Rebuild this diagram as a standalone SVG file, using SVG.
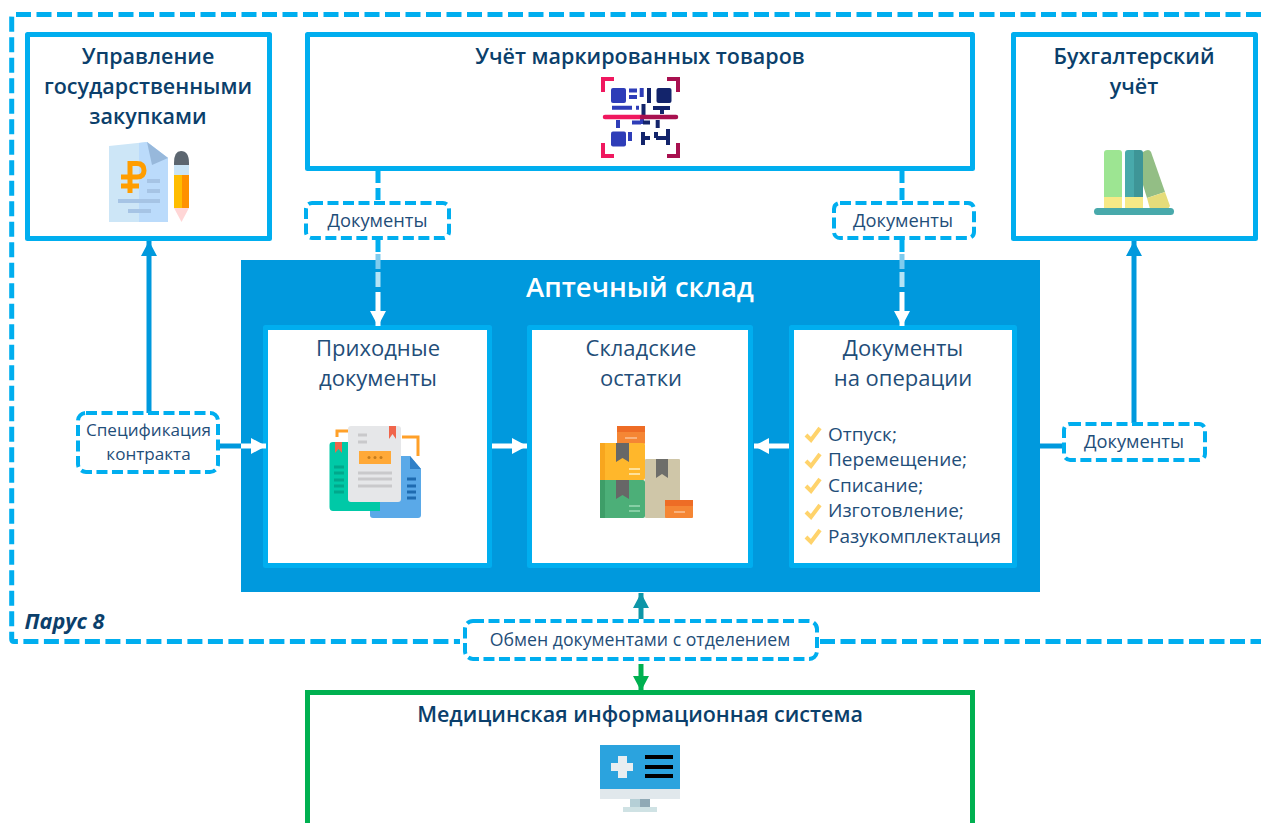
<svg xmlns="http://www.w3.org/2000/svg" width="1261" height="823" viewBox="0 0 1261 823">
<style>
text{font-family:"Open Sans","Noto Sans",sans-serif;text-anchor:middle;fill:#1F4E79}
.h{font-size:21.500px;font-weight:600;fill:#0B3F6B}
.t{font-size:22px}
.l{font-size:18.300px}
.box{fill:#fff;stroke:#00AEEF;stroke-width:5;stroke-linejoin:round}
.dash{fill:#fff;stroke:#00AEEF;stroke-width:4;stroke-dasharray:11 4.500}
.dl{fill:none;stroke:#00AEEF;stroke-width:5;stroke-dasharray:15 5.500}
.c{fill:none;stroke-width:5}
.li{text-anchor:start;font-size:19px}
.ck{fill:none;stroke:#FFD36B;stroke-width:4}
.q1{fill:none;stroke:#2E3DB8;stroke-width:4}
.q2{fill:none;stroke:#13246B;stroke-width:4}
</style>
<defs>
<marker id="aw" markerUnits="userSpaceOnUse" markerWidth="16" markerHeight="16" refX="15" refY="8" orient="auto"><path d="M0 0L15 8L0 16Z" fill="#fff"/></marker>
<marker id="ab" markerUnits="userSpaceOnUse" markerWidth="16" markerHeight="16" refX="15" refY="8" orient="auto"><path d="M0 0L15 8L0 16Z" fill="#0099DD"/></marker>
<marker id="at" markerUnits="userSpaceOnUse" markerWidth="16" markerHeight="16" refX="15" refY="8" orient="auto"><path d="M0 0L15 8L0 16Z" fill="#0E96A8"/></marker>
<marker id="ag" markerUnits="userSpaceOnUse" markerWidth="16" markerHeight="16" refX="15" refY="8" orient="auto"><path d="M0 0L15 8L0 16Z" fill="#00B050"/></marker>
</defs>

<g id="parus">
<path class="dl" d="M1261 14.500H14Q11.700 14.500 11.700 17V639Q11.700 641.500 14 641.500H460"/>
<path class="dl" d="M820 641.500H1261"/>
<text x="64.500" y="629" style="font-size:21.600px;font-weight:700;font-style:italic;fill:#0B3F6B">Парус 8</text>
</g>

<g id="apteka">
<rect x="241" y="260" width="799" height="332" fill="#0099DD"/>
<text x="640" y="297" style="font-size:27.500px;font-weight:600;fill:#fff">Аптечный склад</text>
</g>

<g id="zakupki">
<rect class="box" x="27.500" y="34.500" width="242" height="204"/>
<text class="h" x="148" y="64">Управление</text>
<text class="h" x="148" y="94">государственными</text>
<text class="h" x="148" y="124">закупками</text>
<path d="M109 146L147 142L168 158V222H109Z" fill="#CDE6F7"/>
<path d="M139 143L147 142L168 158V222H139Z" fill="#BBDBFB"/>
<path d="M147 142L168 158L152 165Z" fill="#97B8DB"/>
<path d="M130 193V163.500H137Q144 163.500 144 170.500Q144 177 137 177H121M121 186H139" fill="none" stroke="#FF9D00" stroke-width="5"/>
<path d="M147 181H160M147 191H160M118 201H160M128 211H151" stroke="#A6C4E5" stroke-width="4"/>
<path d="M174 163Q174 151 181 151Q189 151 189 163V165H174Z" fill="#5C6670"/>
<rect x="174" y="165" width="15" height="10" fill="#C9E4F7"/>
<rect x="174" y="175" width="8" height="33" fill="#FFBD00"/>
<rect x="182" y="175" width="7" height="33" fill="#FF9100"/>
<path d="M174 208H189L181.500 222Z" fill="#FFD6D6"/>
</g>

<g id="markirovka">
<rect class="box" x="307.500" y="34.500" width="665" height="134"/>
<text class="h" x="640" y="64">Учёт маркированных товаров</text>
<g fill="none" stroke-width="4">
<path d="M603 92V79H614M603 143V156H614" stroke="#F0185F"/>
<path d="M678 92V79H667M678 143V156H667" stroke="#A8104F"/>
</g>
<rect x="611" y="88" width="15" height="15" rx="2" fill="#2E3DB8"/>
<rect x="656.500" y="88" width="15" height="15" rx="2" fill="#13246B"/>
<rect x="611" y="131.500" width="15" height="15" rx="2" fill="#2E3DB8"/>
<path class="q1" d="M629 90.500H637M629 97H637M641.700 88V97M612 107.700H632M636 107.700H639M618 120V128M632 122.500H641M630 132V141M642 117V124"/>
<path class="q2" d="M649 88V103M653 108H670M662 108V114M657.700 120V128M643 122.500H650M643.500 104V116M643 132V145M643 138H650M656 132V138M656 138H668M668 129V145"/>
<path d="M605 117H642" stroke="#F0185F" stroke-width="4.500" stroke-linecap="round"/>
<path d="M642 117H676" stroke="#A8104F" stroke-width="4.500" stroke-linecap="round"/>
</g>

<g id="buh">
<rect class="box" x="1013.500" y="34.500" width="242" height="204"/>
<text class="h" x="1134" y="64">Бухгалтерский</text>
<text class="h" x="1134" y="94">учёт</text>
<path d="M1104 153Q1104 150 1107 150H1119Q1122 150 1122 153V197H1104Z" fill="#9DE592"/>
<rect x="1104" y="197" width="18" height="12" fill="#F6E986"/>
<path d="M1125 153Q1125 150 1128 150H1134V197H1125Z" fill="#48A9AB"/>
<path d="M1134 150H1140Q1143 150 1143 153V197H1134Z" fill="#3E9597"/>
<rect x="1125" y="197" width="18" height="12" fill="#F6E986"/>
<path d="M1143 152Q1149 148 1151 152L1165 192L1147 198L1143 185Z" fill="#93BE85"/>
<path d="M1147 198L1165 192L1170 206L1168 209H1150Z" fill="#E5DC7A"/>
<rect x="1094" y="208" width="80" height="7" rx="3.500" fill="#48A9AB"/>
</g>

<g id="prihod">
<rect class="box" x="265.500" y="327.500" width="224" height="238"/>
<text class="t" x="378" y="356">Приходные</text>
<text class="t" x="378" y="386">документы</text>
<path d="M337 437V431H350M402 437H418V456" fill="none" stroke="#FFA028" stroke-width="3"/>
<path d="M410 456L421 469V515Q421 518 418 518H373Q370 518 370 515V456Z" fill="#5AA9E8"/>
<path d="M410 456L421 469H410Z" fill="#2F80C8"/>
<path d="M407 479H416M407 486H416M407 492H416M407 498H416" stroke="#1E6BB0" stroke-width="3"/>
<path d="M333 442H380V511H333Q329.500 511 329.500 507V445Q329.500 442 333 442Z" fill="#00C9A7"/>
<path d="M335 442H342V453L338.500 449L335 453Z" fill="#F0654B"/>
<path d="M334 467H344M334 473H344M334 480H344M334 486H344M334 492H344" stroke="#00A88C" stroke-width="3"/>
<rect x="348" y="426" width="53" height="76" rx="3" fill="#E6E7E9"/>
<path d="M389 426H396V439L392.500 434L389 439Z" fill="#F0654B"/>
<path d="M358 435H367M358 442H367M358 473H392M358 479H392M358 486H392" stroke="#C9C9CB" stroke-width="3"/>
<rect x="359" y="451" width="32" height="13" fill="#FFA938"/>
<circle cx="369" cy="457.500" r="1.500" fill="#C67C1C"/><circle cx="375" cy="457.500" r="1.500" fill="#C67C1C"/><circle cx="381" cy="457.500" r="1.500" fill="#C67C1C"/>
</g>

<g id="ostatki">
<rect class="box" x="529.500" y="327.500" width="221" height="238"/>
<text class="t" x="641" y="356">Складские</text>
<text class="t" x="641" y="386">остатки</text>
<rect x="617" y="426" width="28" height="18" rx="1" fill="#F58634"/>
<rect x="617" y="426" width="28" height="6" fill="#EE6C25"/>
<path d="M625 438H637" stroke="#F9B27C" stroke-width="2"/>
<rect x="600" y="443" width="45" height="37" rx="2" fill="#FFB72B"/>
<rect x="600" y="443" width="5" height="37" fill="#F8A61E"/>
<path d="M616 443H629V462L622.500 458L616 462Z" fill="#676767"/>
<path d="M629 469H640M629 474H640" stroke="#FFE19A" stroke-width="2"/>
<rect x="600" y="480" width="45" height="38" rx="2" fill="#4CAF78"/>
<rect x="600" y="480" width="5" height="38" fill="#3E9E68"/>
<path d="M616 480H629V499L622.500 495L616 499Z" fill="#676767"/>
<path d="M629 506H640M629 511H640" stroke="#86CFA5" stroke-width="2"/>
<rect x="645" y="459" width="35" height="59" rx="1" fill="#CFC6A8"/>
<path d="M656 459H668V478L662 474L656 478Z" fill="#6E6E6A"/>
<rect x="665" y="500" width="28" height="18" rx="1" fill="#F58634"/>
<rect x="665" y="500" width="28" height="6" fill="#EE6C25"/>
<path d="M674 512H685" stroke="#F9B27C" stroke-width="2"/>
</g>

<g id="operacii">
<rect class="box" x="791.500" y="327.500" width="223" height="238"/>
<text class="t" x="903" y="356">Документы</text>
<text class="t" x="903" y="386">на операции</text>
<path class="ck" d="M806 435L811 440L820 428"/><text class="li" x="828" y="441">Отпуск;</text>
<path class="ck" d="M806 461L811 466L820 454"/><text class="li" x="828" y="466">Перемещение;</text>
<path class="ck" d="M806 486L811 491L820 479"/><text class="li" x="828" y="491.500">Списание;</text>
<path class="ck" d="M806 512L811 517L820 505"/><text class="li" x="828" y="517">Изготовление;</text>
<path class="ck" d="M806 537L811 542L820 530"/><text class="li" x="828" y="542.500">Разукомплектация</text>
</g>

<g id="mis">
<path d="M307.500 823V692.500H972.500V823" fill="#fff" stroke="#00B050" stroke-width="5"/>
<text class="h" x="640" y="722">Медицинская информационная система</text>
<rect x="600" y="745" width="80" height="44" fill="#2BA3DE"/>
<path d="M611 763H618V756H627V763H633V771H627V778H618V771H611Z" fill="#E8EEF1"/>
<path d="M645 757H673M645 767H673M645 776H673" stroke="#000" stroke-width="4"/>
<rect x="600" y="789" width="80" height="10" fill="#E1E8EC"/>
<rect x="630" y="799" width="10" height="8" fill="#B5CFD6"/>
<rect x="640" y="799" width="10" height="8" fill="#8FA9B5"/>
<rect x="623" y="807" width="34" height="5" fill="#CFE2E4"/>
</g>

<g id="connectors">
<path class="c" stroke="#00AEEF" stroke-dasharray="12 5" d="M378 171V203"/>
<path class="c" stroke="#00AEEF" stroke-dasharray="12 5" d="M902 171V203"/>
<path class="c" stroke="#00AEEF" d="M378 240V252"/>
<path class="c" stroke="#00AEEF" d="M902 240V252"/>
<path class="c" stroke="#7FCBEE" d="M378 254V269"/>
<path class="c" stroke="#7FCBEE" d="M902 254V269"/>
<path class="c" stroke="#B5E3F5" d="M378 272V287"/>
<path class="c" stroke="#B5E3F5" d="M902 272V287"/>
<path class="c" stroke="#fff" d="M378 292V326" marker-end="url(#aw)"/>
<path class="c" stroke="#fff" d="M902 292V326" marker-end="url(#aw)"/>
<path class="c" stroke="#0099DD" d="M149 413V241" marker-end="url(#ab)"/>
<path class="c" stroke="#0099DD" d="M1134 423V241" marker-end="url(#ab)"/>
<path class="c" stroke="#0099DD" d="M220 446H241"/>
<path class="c" stroke="#fff" d="M241 446H266" marker-end="url(#aw)"/>
<path class="c" stroke="#fff" d="M492 446H527" marker-end="url(#aw)"/>
<path class="c" stroke="#fff" d="M789 446H754" marker-end="url(#aw)"/>
<path class="c" stroke="#0099DD" d="M1040 446H1064"/>
<path class="c" stroke="#0E96A8" d="M641 619V593" marker-end="url(#at)"/>
<path class="c" stroke="#00B050" d="M641 664V691" marker-end="url(#ag)"/>
</g>

<g id="labels">
<g id="lbl-doc1"><rect class="dash" x="306" y="203" width="143" height="35" rx="6"/><text class="l" x="377.500" y="227">Документы</text></g>
<g id="lbl-doc2"><rect class="dash" x="834" y="203" width="140" height="35" rx="6"/><text class="l" x="903" y="227">Документы</text></g>
<g id="lbl-spec"><rect class="dash" x="78" y="413" width="140" height="59" rx="8"/><text class="l" x="148.500" y="436" style="font-size:17.100px">Спецификация</text><text class="l" x="148.500" y="460" style="font-size:17.100px">контракта</text></g>
<g id="lbl-doc3"><rect class="dash" x="1064" y="424" width="141" height="36" rx="6"/><text class="l" x="1134" y="448">Документы</text></g>
<g id="lbl-obmen"><rect class="dash" x="465" y="621" width="352" height="38" rx="8"/><text class="l" x="640" y="646" style="font-size:17.700px">Обмен документами с отделением</text></g>
</g>
</svg>
